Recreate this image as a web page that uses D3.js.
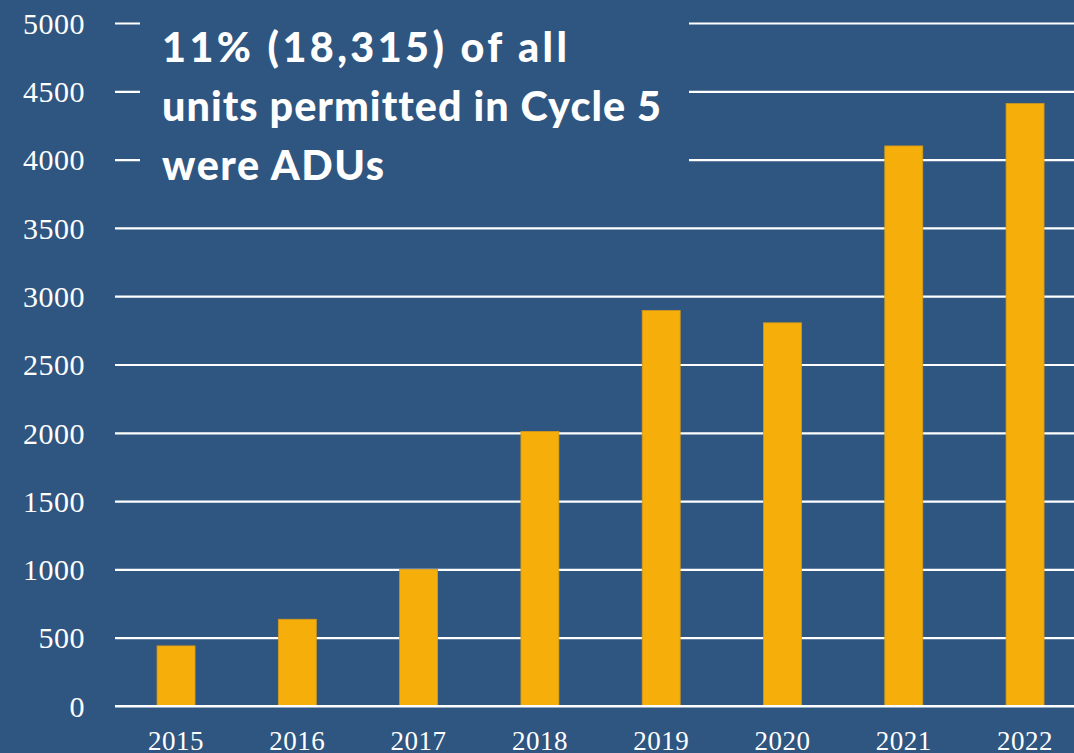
<!DOCTYPE html>
<html>
<head>
<meta charset="utf-8">
<script src="https://cdn.jsdelivr.net/npm/d3@7"></script>
<style>
html,body{margin:0;padding:0;background:#2f5680;overflow:hidden;}
svg{display:block;}
</style>
</head>
<body>
<svg id="chart" width="1074" height="753"></svg>
<script>
const years = ["2015","2016","2017","2018","2019","2020","2021","2022"];
const aduPermits = [440, 635, 1000, 2010, 2895, 2805, 4100, 4410];
const yTicks = [0,500,1000,1500,2000,2500,3000,3500,4000,4500,5000];
const titleLines = ["11% (18,315) of all", "units permitted in Cycle 5", "were ADUs"];

const W = 1074, H = 753;
const bg = "#2f5680";
const svg = d3.select("#chart");
svg.append("rect").attr("width", W).attr("height", H).attr("fill", bg);

const x = d3.scaleBand().domain(years).range([115.4, 1085.7]).paddingInner(0.687).paddingOuter(0.3435);
const y = d3.scaleLinear().domain([0, 5000]).range([706, 23]);

// gridlines
const yAxis = d3.axisLeft(y).tickValues(yTicks).tickSize(-(1085 - 115)).tickFormat(d => d).tickPadding(30);
const gy = svg.append("g").attr("transform", "translate(115,0)").call(yAxis);
gy.select(".domain").remove();
gy.selectAll(".tick line").attr("stroke", "#ffffff").attr("stroke-width", 2.2);
gy.selectAll(".tick text")
  .attr("fill", "#ffffff")
  .attr("font-family", "'Liberation Serif','Times New Roman',serif")
  .attr("font-size", 30)
  .attr("letter-spacing", "0.5px")
  .attr("dy", "0.34em");

// bars
svg.append("g").selectAll("rect").data(years).join("rect")
  .attr("x", d => x(d))
  .attr("width", x.bandwidth())
  .attr("y", (d, i) => y(aduPermits[i]))
  .attr("height", (d, i) => y(0) - y(aduPermits[i]))
  .attr("fill", "#f6ae0a")
  .attr("stroke", "#d49a1c")
  .attr("stroke-width", 0.8);

// redraw zero line over bars
svg.append("line").attr("x1", 115).attr("x2", 1085).attr("y1", y(0)).attr("y2", y(0))
  .attr("stroke", "#ffffff").attr("stroke-width", 2.2);

// x axis labels
const xAxis = d3.axisBottom(x).tickSize(0).tickPadding(0);
const gx = svg.append("g").attr("transform", "translate(0," + y(0) + ")").call(xAxis);
gx.select(".domain").remove();
gx.selectAll(".tick text")
  .attr("fill", "#ffffff")
  .attr("font-family", "'Liberation Serif','Times New Roman',serif")
  .attr("font-size", 27)
  .attr("letter-spacing", "0.5px")
  .attr("y", 44)
  .attr("dy", 0);

// title box covering gridlines
svg.append("rect").attr("x", 140).attr("y", 5).attr("width", 689 - 140).attr("height", 195).attr("fill", bg);

const tg = svg.append("g");
const baselines = [62, 121, 180];
const targetWidths = [406, 500, 223];
const texts = tg.selectAll("text").data(titleLines).join("text")
  .attr("x", 162)
  .attr("y", (d, i) => baselines[i])
  .attr("fill", "#ffffff")
  .attr("font-family", "Lato, 'Open Sans', sans-serif")
  .attr("font-weight", 900)
  .attr("font-size", 40)
  .attr("letter-spacing", "1px")
  .text(d => d);
const w = texts.nodes()[1].getComputedTextLength();
const fs = 40 * 500 / w;
texts.attr("font-size", fs)
  .attr("textLength", (d, i) => targetWidths[i])
  .attr("lengthAdjust", "spacing");
</script>
</body>
</html>
